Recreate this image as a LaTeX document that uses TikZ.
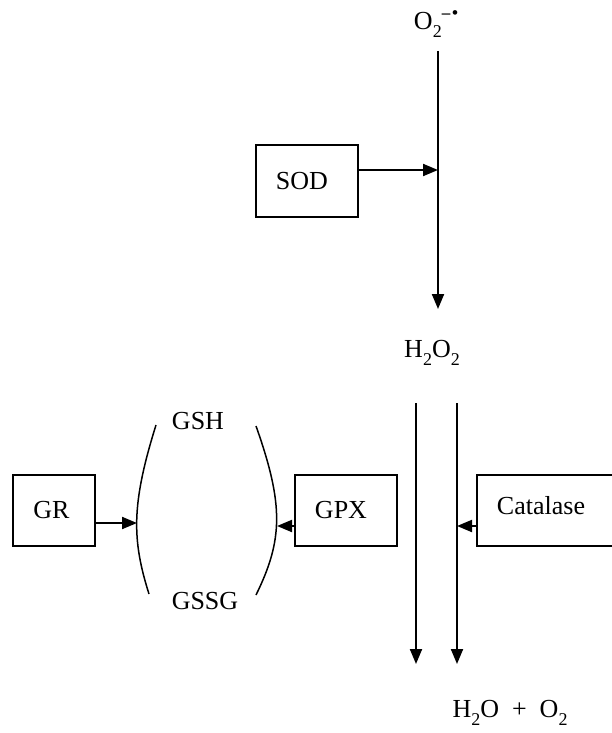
\documentclass[tikz,border=0pt]{standalone}
\usepackage{fontspec}
\setmainfont{Liberation Serif}
\usetikzlibrary{arrows.meta}
\newcommand\lsub[1]{\raisebox{-0.3em}{\fontsize{18}{18}\selectfont #1}}
\begin{document}
\begin{tikzpicture}[x=1pt,y=-1pt,
  lbl/.style={font=\fontsize{26}{30}\selectfont, inner sep=0pt},
  box/.style={draw, line width=2pt, minimum height=71pt, inner sep=0pt},
  arr/.style={line width=2pt, -{Triangle[length=15pt,width=12pt]}},
  brk/.style={line width=1.5pt}]
\useasboundingbox (0,0) rectangle (612,733);
\clip (0,0) rectangle (612,733);
% labels
\node[lbl] (o2) at (436,24) {O\lsub{2}\raisebox{0.45em}{\fontsize{17}{17}\selectfont\textbf{–}\kern0.1em\textbf{•}}};
\node[lbl] (h2o2) at (432,353) {H\lsub{2}O\lsub{2}};
\node[lbl] (prod) at (510,713) {H\lsub{2}O \ + \ O\lsub{2}};
\node[lbl] (gsh) at (198,421) {GSH};
\node[lbl] (gssg) at (205,601) {GSSG};
% boxes
\node[box, lbl, minimum width=102pt, minimum height=72pt] (sod) at (307,181) {SOD\kern10pt};
\node[box, lbl, minimum width=82pt] (gr) at (54,510.5) {GR\kern5pt};
\node[box, lbl, minimum width=102pt] (gpx) at (346,510.5) {GPX\kern10pt};
\node[box, lbl, minimum width=170pt, anchor=west] (cat) at (476,510.5) {};
\node[lbl] (catt) at (541,506) {Catalase};
% coordinates on lines
\coordinate (o2top) at (438,51);
\coordinate (o2tip) at (438,309);
\coordinate (sodhit) at (438,170);
\coordinate (atop) at (416,403);
\coordinate (atip) at (416,664);
\coordinate (btop) at (457,403);
\coordinate (btip) at (457,664);
\coordinate (lmid) at (137,523);
\coordinate (rmid) at (277,526);
\coordinate (bhit) at (457,526);
% main arrows
\draw[arr] (o2top) -- (o2tip);
\draw[arr] (atop) -- (atip);
\draw[arr] (btop) -- (btip);
\draw[arr] (sod.east |- sodhit) -- (sodhit);
\draw[arr] (gr.east |- lmid) -- (lmid);
\draw[arr] (gpx.west |- rmid) -- (rmid);
\draw[arr] (cat.west |- bhit) -- (bhit);
% brackets
\draw[brk] (156,425) .. controls (131,505) and (132,540) .. (149,594);
\draw[brk] (256,426) .. controls (284,505) and (283,540) .. (256,595);
\end{tikzpicture}
\end{document}
